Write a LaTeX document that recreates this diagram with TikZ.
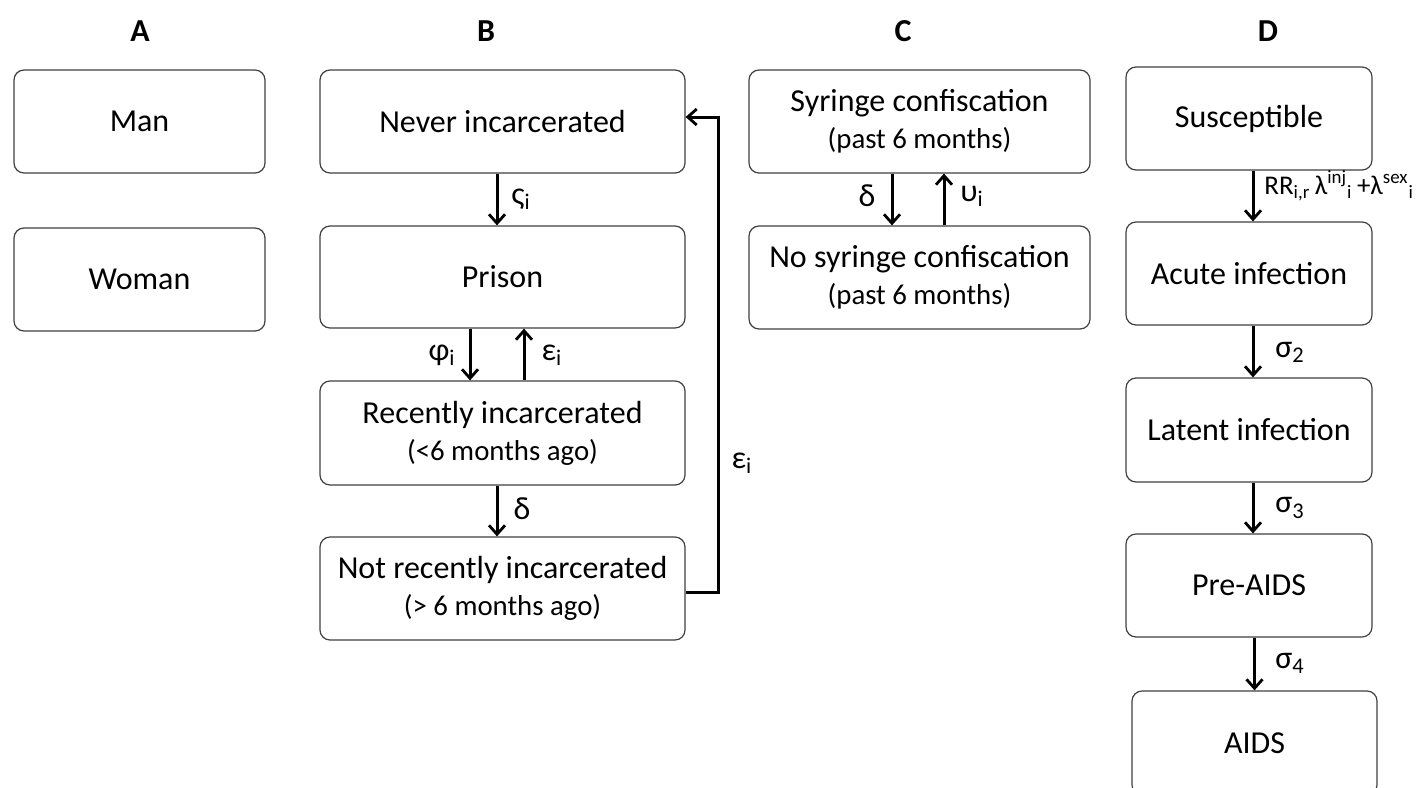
\documentclass[tikz,border=0pt]{standalone}
\usepackage{fontspec}
\setmainfont{Carlito}
\usetikzlibrary{arrows.meta}
\tikzset{
  box/.style={draw=black!75, line width=0.6pt, rounded corners=5pt, fill=white, align=center, font=\fontsize{16}{18.5}\selectfont, inner sep=0pt},
  arr/.style={line width=1.5pt, -{Straight Barb[length=4.5pt,width=8pt,line width=1.4pt]}},
  lbl/.style={font=\fontsize{16}{18}\selectfont, inner sep=0pt},
  head/.style={font=\fontsize{16}{18}\selectfont\bfseries, inner sep=0pt}
}
\newcommand{\subtxt}{\fontsize{14.4}{16}\selectfont}
\begin{document}
\begin{tikzpicture}[x=0.5pt,y=-0.5pt]
\useasboundingbox (0,0) rectangle (1417,787);
\clip (0,0) rectangle (1417,787);
% headings
\node[head] (hA) at (140,31) {A};
\node[head] (hB) at (486,31) {B};
\node[head] (hC) at (903,31) {C};
\node[head] (hD) at (1268,31) {D};
% A
\node[box, minimum width=125.5pt, minimum height=51.5pt] (man) at (139.5,121.5) {Man};
\node[box, minimum width=125.5pt, minimum height=51.5pt] (woman) at (139.5,279.5) {Woman};
% B
\node[box, minimum width=182.5pt, minimum height=51.5pt] (never) at (502.5,121.5) {Never incarcerated};
\node[box, minimum width=182.5pt, minimum height=51pt] (prison) at (502.5,277) {Prison};
\node[box, minimum width=182.5pt, minimum height=52pt] (recent) at (502.5,433) {Recently incarcerated\\{\subtxt(<6 months ago)}};
\node[box, minimum width=182.5pt, minimum height=51.5pt] (notrec) at (502.5,588.5) {Not recently incarcerated\\{\subtxt(> 6 months ago)}};
% C
\node[box, minimum width=170.5pt, minimum height=51.5pt] (syr) at (919.5,121.5) {Syringe confiscation\\{\subtxt(past 6 months)}};
\node[box, minimum width=170.5pt, minimum height=51.5pt] (nosyr) at (919.5,277.5) {No syringe confiscation\\{\subtxt(past 6 months)}};
% D
\node[box, minimum width=123pt, minimum height=51.5pt] (sus) at (1249,118.5) {Susceptible};
\node[box, minimum width=123pt, minimum height=51.5pt] (acute) at (1249,273.5) {Acute infection};
\node[box, minimum width=123pt, minimum height=52pt] (latent) at (1249,430) {Latent infection};
\node[box, minimum width=123pt, minimum height=51.5pt] (preaids) at (1249,585.5) {Pre-AIDS};
\node[box, minimum width=122.5pt, minimum height=52pt] (aids) at (1254.5,743) {AIDS};
% B arrows
\draw[arr] ([xshift=-2.75pt]never.south) -- ([xshift=-2.75pt]prison.north);
\node[lbl] (lvs) at (521,199) {ς\textsubscript{i}};
\draw[arr] ([xshift=-16.25pt]prison.south) -- ([xshift=-16.25pt]recent.north);
\node[lbl] (lphi) at (442,355) {φ\textsubscript{i}};
\draw[arr] ([xshift=10.75pt]recent.north) -- ([xshift=10.75pt]prison.south);
\node[lbl] (leps) at (552,355) {ε\textsubscript{i}};
\draw[arr] ([xshift=-2.75pt]recent.south) -- ([xshift=-2.75pt]notrec.north);
\node[lbl] (ldel) at (522,509) {δ};
\coordinate (loopc) at (718,0);
\draw[arr] ([yshift=-2pt]notrec.east) -| ([yshift=2.25pt]loopc |- never.east) -- ([yshift=2.25pt]never.east);
\node[lbl] (leps2) at (742,463) {ε\textsubscript{i}};
% C arrows
\draw[arr] ([xshift=-13.75pt]syr.south) -- ([xshift=-13.75pt]nosyr.north);
\node[lbl] (ldelc) at (867,196) {δ};
\draw[arr] ([xshift=12.25pt]nosyr.north) -- ([xshift=12.25pt]syr.south);
\node[lbl] (lups) at (972,196) {υ\textsubscript{i}};
% D arrows
\draw[arr] ([xshift=2pt]sus.south) -- ([xshift=2pt]acute.north);
\node[lbl, anchor=west, font=\fontsize{13.5}{16}\selectfont] (lrr) at (1264,186) {RR\textsubscript{i,r}\,λ\textsuperscript{inj}\textsubscript{i}\,+λ\textsuperscript{sex}\textsubscript{i}};
\draw[arr] ([xshift=2pt]acute.south) -- ([xshift=2pt]latent.north);
\node[lbl] (ls2) at (1290,352) {σ\textsubscript{2}};
\draw[arr] ([xshift=2pt]latent.south) -- ([xshift=2pt]preaids.north);
\node[lbl] (ls3) at (1290,508) {σ\textsubscript{3}};
\draw[arr] (preaids.south -| aids.north) -- (aids.north);
\node[lbl] (ls4) at (1290,663) {σ\textsubscript{4}};
\end{tikzpicture}
\end{document}
